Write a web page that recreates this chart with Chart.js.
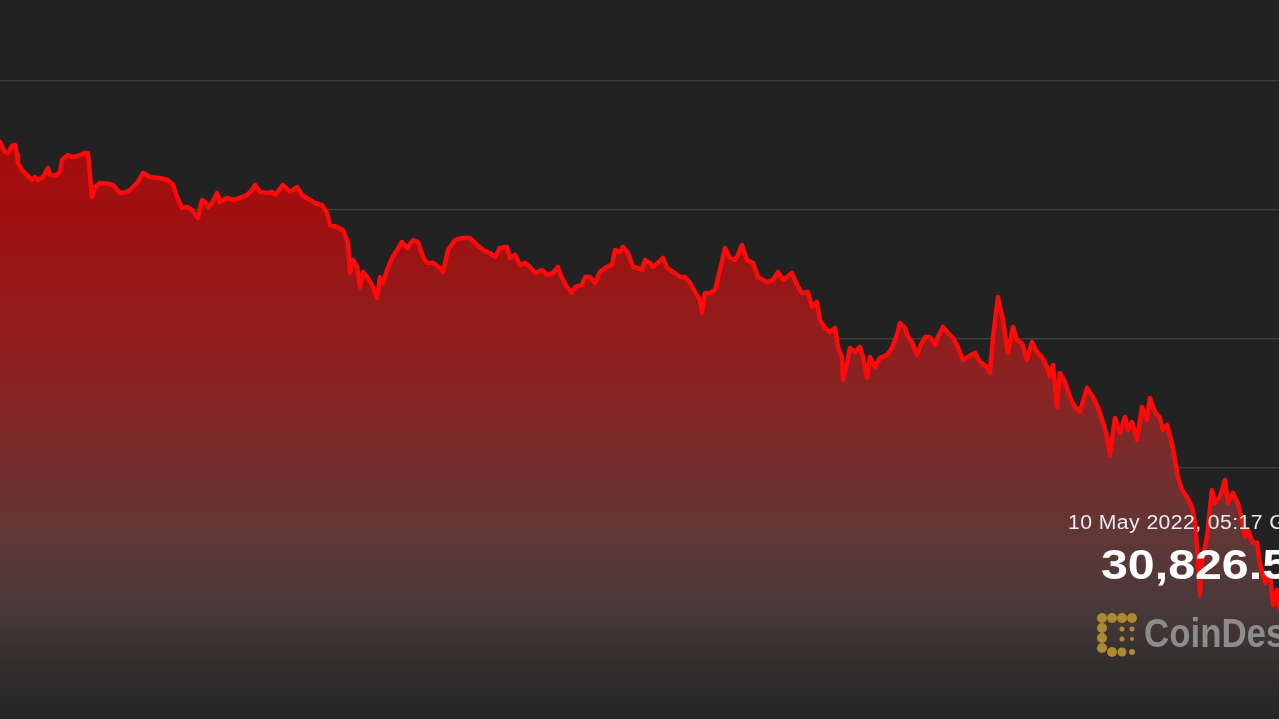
<!DOCTYPE html>
<html>
<head>
<meta charset="utf-8">
<script src="https://cdn.jsdelivr.net/npm/chart.js@4.4.1/dist/chart.umd.min.js"></script>
<style>
  html, body { margin: 0; padding: 0; background: #222222; overflow: hidden; }
  #wrap { position: relative; width: 1279px; height: 719px; overflow: hidden; }
  #c { position: absolute; left: 0; top: 0; }
  .lbl { position: absolute; white-space: nowrap; font-family: "Liberation Sans", Arial, sans-serif; transform-origin: 0 50%; }
  #date { left: 1068px; top: 510px; font-size: 20px; letter-spacing: 0.4px; color: #ebebeb; line-height: 24px; transform: scaleX(1.06); }
  #price { left: 1101px; top: 541px; font-size: 42px; font-weight: bold; color: #ffffff; line-height: 48px; transform: scaleX(1.15); }
  #brand { left: 1144px; top: 609px; font-size: 41px; font-weight: bold; color: #8c8c8c; line-height: 48px; filter: blur(0.6px); transform: scaleX(0.85); }
  #logo { position: absolute; left: 1096px; top: 612px; filter: blur(0.6px); }
</style>
</head>
<body>
<div id="wrap">
  <canvas id="c" width="1279" height="719"></canvas>
  <div class="lbl" id="date">10 May 2022, 05:17 GMT</div>
  <div class="lbl" id="price">30,826.50</div>
  <svg id="logo" width="44" height="46" viewBox="0 0 44 46">
    <g fill="#ad8a32">
      <circle cx="6" cy="6" r="5"/><circle cx="16" cy="6" r="5"/><circle cx="26" cy="6" r="5"/><circle cx="36" cy="6" r="5"/>
      <circle cx="6" cy="16" r="5"/><circle cx="6" cy="26" r="5"/><circle cx="6" cy="36" r="5"/>
      <circle cx="16" cy="40" r="5"/><circle cx="26" cy="40" r="4.5"/><circle cx="36" cy="40" r="3"/>
      <circle cx="26" cy="17" r="2.5"/><circle cx="36" cy="17" r="2.5"/><circle cx="26" cy="27" r="2.5"/><circle cx="36" cy="27" r="2"/>
    </g>
  </svg>
  <div class="lbl" id="brand">CoinDesk</div>
</div>
<script>
// Minutes since start of window (window ends 10 May 2022, 05:17 GMT)
const minutes = [
  0,22,36,54,68,77,81,99,122,144,158,171,194,216,225,248,270,279,306,324,351,383,396,414,428,450,482,509,540,563,
  585,617,644,675,720,756,779,797,819,842,864,891,909,923,936,954,977,990,1022,1049,1080,1112,1134,1148,1170,1202,1224,1238,1274,1305,
  1337,1359,1395,1418,1449,1472,1485,1517,1544,1566,1575,1589,1607,1620,1634,1652,1674,1697,1710,1724,1742,1764,1787,1809,1832,1859,1881,1904,1922,1949,
  1980,1994,2016,2048,2084,2115,2147,2174,2205,2228,2250,2282,2295,2318,2340,2363,2385,2408,2439,2462,2489,2511,2529,2552,2574,2588,2619,2633,2655,2678,
  2700,2732,2754,2768,2790,2804,2826,2849,2871,2889,2903,2925,2939,2961,2984,3002,3029,3060,3083,3105,3128,3150,3159,3173,3195,3218,3240,3263,3285,3308,
  3321,3339,3362,3389,3411,3452,3479,3501,3524,3564,3587,3609,3636,3654,3677,3690,3713,3735,3758,3771,3789,3794,3812,3825,3848,3870,3884,3902,3915,3938,
  3960,3992,4014,4037,4050,4073,4086,4104,4127,4140,4163,4185,4208,4221,4244,4266,4289,4311,4334,4356,4388,4410,4442,4455,4469,4491,4514,4536,4559,4577,
  4599,4622,4644,4667,4689,4712,4725,4739,4757,4770,4793,4815,4838,4860,4892,4919,4941,4964,4982,4995,5018,5040,5063,5076,5094,5117,5139,5162,5175,5198,
  5220,5234,5252,5274,5288,5301,5319,5342,5364,5378,5391,5400,5409,5432,5454,5468,5490,5513,5526,5549,5571,5589,5603,5616,5639,5657,5670,5693,5715,5729,
  5747,5756
];
// BTC price (USD)
const prices = [
  38055,37900,37884,37993,38008,37853,37729,37620,37543,37465,37512,37465,37512,37651,37543,37530,37590,37775,37853,37822,37837,37884,37880,37202,37357,37419,37410,37388,37264,37270,
  37310,37419,37574,37512,37496,37465,37388,37202,37031,37047,37000,36876,37155,37124,37047,37109,37264,37124,37186,37155,37186,37233,37310,37388,37280,37264,37280,37233,37388,37280,
  37357,37233,37155,37109,37078,36954,36768,36737,36690,36489,36024,36225,36117,35807,36040,35962,35838,35636,35962,35869,36070,36256,36380,36504,36411,36535,36504,36272,36179,36180,
  36101,36040,36380,36535,36566,36566,36458,36380,36334,36272,36411,36427,36256,36303,36148,36179,36117,36024,36070,35993,36024,36117,35946,35807,35714,35807,35838,35962,35962,35869,
  36040,36117,36148,36380,36350,36427,36334,36117,36101,36070,36225,36179,36117,36179,36256,36101,36040,35962,35962,35869,35730,35606,35404,35714,35714,35760,36070,36411,36256,36225,
  36303,36458,36225,36179,35962,35884,35915,36040,35915,36024,35838,35714,35730,35497,35574,35295,35171,35109,35171,34877,34722,34365,34629,34861,34799,34877,34722,34396,34722,34567,
  34706,34753,34861,35063,35249,35171,35032,34954,34753,34877,35032,35032,34908,35032,35187,35094,35016,34877,34675,34722,34784,34644,34567,34474,35032,35652,35295,34784,35187,34985,
  34939,34675,34954,34799,34722,34567,34412,34598,33947,34474,34334,34102,33947,33870,34242,34102,33947,33714,33482,33203,33776,33544,33792,33590,33714,33435,33947,33745,34086,33870,
  33776,33590,33668,33389,33125,32862,32660,32552,32397,32149,31622,31033,31529,31932,32660,32459,32552,32815,32459,32614,32459,32195,31932,32040,31839,31840,31529,31219,31374,30878,
  31110,30826.5
];
const gridValues = [31000, 33000, 35000, 37000, 39000];

const points = minutes.map((m, i) => ({ x: m, y: prices[i] }));

const canvas = document.getElementById('c');
const ctx = canvas.getContext('2d');

function fillGradient(context) {
  const chart = context.chart;
  const area = chart.chartArea;
  if (!area) return 'rgba(160,17,17,1)';
  const g = chart.ctx.createLinearGradient(0, area.top, 0, area.bottom);
  g.addColorStop(0.0, 'rgb(170,10,10)');
  g.addColorStop(0.30, 'rgb(160,16,16)');
  g.addColorStop(0.55, 'rgb(137,36,36)');
  g.addColorStop(0.75, 'rgb(96,55,55)');
  g.addColorStop(0.85, 'rgb(72,57,57)');
  g.addColorStop(0.93, 'rgb(48,45,45)');
  g.addColorStop(1.0, 'rgb(36,36,36)');
  return g;
}

new Chart(ctx, {
  type: 'line',
  data: {
    datasets: [{
      data: points,
      borderColor: '#ff0a0a',
      borderWidth: 4.5,
      borderJoinStyle: 'round',
      borderCapStyle: 'round',
      pointRadius: 0,
      tension: 0,
      fill: 'start',
      backgroundColor: fillGradient
    }]
  },
  options: {
    responsive: false,
    animation: false,
    layout: { padding: 0 },
    plugins: { legend: { display: false }, tooltip: { enabled: false } },
    scales: {
      x: {
        type: 'linear',
        min: 0,
        max: 5756,
        display: false
      },
      y: {
        type: 'linear',
        min: 29108.5,
        max: 40255.8,
        afterBuildTicks: (axis) => { axis.ticks = gridValues.map(v => ({ value: v })); },
        afterFit: (axis) => { axis.width = 0; },
        ticks: { display: false },
        border: { display: false },
        grid: { color: 'rgba(255,255,255,0.13)', lineWidth: 1.5, drawTicks: false }
      }
    }
  }
});
</script>
</body>
</html>
